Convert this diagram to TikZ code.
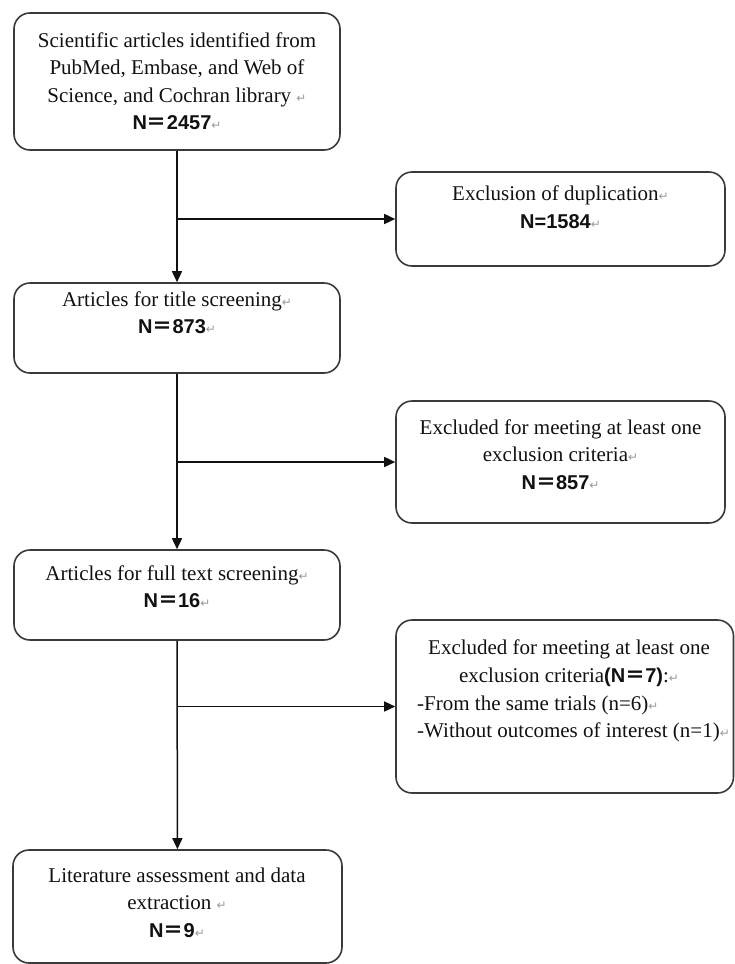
\documentclass[tikz,border=0pt]{standalone}
\usepackage{fontspec}
\setmainfont{Liberation Serif}
\setsansfont{Liberation Sans}
\newfontfamily\cjk{Noto Sans CJK SC}
\newfontfamily\symfont{DejaVu Sans}
\usetikzlibrary{arrows.meta,positioning}
\definecolor{ink}{HTML}{111111}
\definecolor{frame}{HTML}{3A3A3A}
\definecolor{mark}{HTML}{9A9A9A}
\newcommand\ret{{\symfont\fontsize{12}{12}\selectfont\color{mark}↵}}
\newcommand\nbold[1]{{\sffamily\bfseries\fontsize{20}{27.5}\selectfont #1}}
\newcommand\feq{{\cjk ＝}}
\tikzset{>={Triangle[length=11pt,width=10pt]},
  every node/.style={font=\fontsize{21}{27.5}\selectfont,text=ink},
  box/.style={draw=frame,line width=1.6pt,rounded corners=16pt,minimum width=326pt,inner sep=0pt},
  sidebox/.style={box,minimum width=329pt},
  txt/.style={align=center,inner sep=0pt},
  flow/.style={->,draw=ink,line width=1.5pt}}

\begin{document}
\begin{tikzpicture}[x=1pt,y=-1pt]
\useasboundingbox (0,0) rectangle (735,964);
% boxes
\node[box,minimum height=137pt] (found) at (177,81.5) {};
\node[sidebox,minimum height=94pt] (dupl) at (560.5,219) {};
\node[box,minimum height=90pt] (title) at (177,328) {};
\node[sidebox,minimum height=122pt] (excla) at (560.5,462) {};
\node[box,minimum height=90pt] (full) at (177,595) {};
\node[box,minimum width=337.5pt,minimum height=173pt] (exclb) at (564.75,706.5) {};
\node[box,minimum width=329pt,minimum height=113pt] (incl) at (177.5,906.5) {};
% texts
\node[txt] (foundtxt) at (177,81) {Scientific articles identified from\\PubMed, Embase, and Web of\\Science, and Cochran library \ret\\\nbold{N\feq2457}\ret};
\node[txt] (dupltxt) at (560.5,207) {Exclusion of duplication\ret\\\nbold{N=1584}\ret};
\node[txt] (titletxt) at (177,312.5) {Articles for title screening\ret\\\nbold{N\feq873}\ret};
\node[txt] (exclatxt) at (560.5,454.5) {Excluded for meeting at least one\\exclusion criteria\ret\\\nbold{N\feq857}\ret};
\node[txt] (fulltxt) at (177,586.5) {Articles for full text screening\ret\\\nbold{N\feq16}\ret};
\node[txt] (exclbtxt) at (569,663) {Excluded for meeting at least one\\exclusion criteria\nbold{(N\feq7)}:\ret};
\node[txt,align=left,anchor=west] (exclblist) at (417,719) {-From the same trials (n=6)\ret\\-Without outcomes of interest (n=1)\ret};
\node[txt] (incltxt) at (177,902.5) {Literature assessment and data\\extraction \ret\\\nbold{N\feq9}\ret};
% connectors
\draw[flow] (found) -- (title);
\draw[flow] (title) -- (full);
\draw[flow] (full) -- (incl);
\draw[flow] (found.south |- dupl.west) -- (dupl.west);
\draw[flow] (title.south |- excla.west) -- (excla.west);
\draw[flow] (full.south |- exclb.west) -- (exclb.west);
\end{tikzpicture}
\end{document}
